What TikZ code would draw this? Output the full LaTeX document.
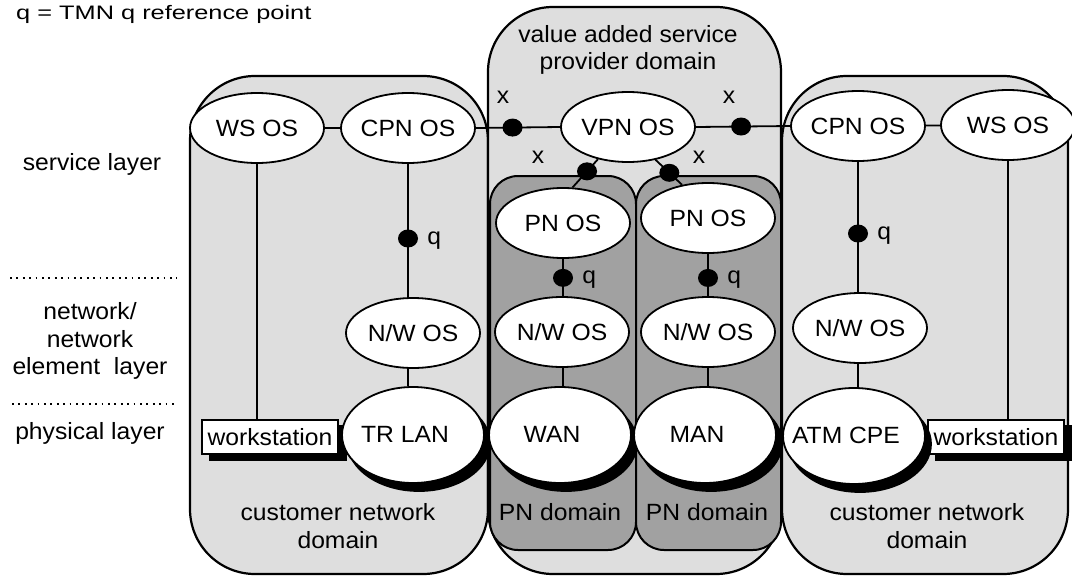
\documentclass[tikz,border=0pt]{standalone}
\usepackage{fontspec}
\setmainfont{Liberation Sans}[FakeStretch=1.05]
\newfontfamily\hdrfont{Liberation Sans}[FakeStretch=1.3]
\usetikzlibrary{shapes.geometric,shadows}
\newcommand\zt[1]{\makebox[0pt]{#1}}
\newcommand\zs[1]{\makebox[0pt]{\raisebox{2pt}{#1}\hspace{16pt}}}
\definecolor{lightdom}{gray}{0.87}
\definecolor{darkdom}{gray}{0.63}
\begin{document}
\begin{tikzpicture}[x=1pt,y=-1pt,
  font=\fontsize{23.5}{27.5}\selectfont,
  dom/.style={draw=black, line width=2.2pt, fill=lightdom, rounded corners=65pt},
  pndom/.style={draw=black, line width=2pt, fill=darkdom, rounded corners=28pt},
  os/.style={ellipse, draw=black, line width=1.8pt, fill=white, minimum width=134pt, minimum height=70pt, inner sep=0pt},
  phys/.style={ellipse, draw=black, line width=1.8pt, fill=white, minimum width=142pt, minimum height=96pt, inner sep=0pt,
    general shadow={fill=black, draw=black, shadow xshift=6pt, shadow yshift=-8pt}},
  wk/.style={rectangle, draw=black, line width=1.5pt, fill=white, minimum width=136pt, minimum height=34pt, inner sep=0pt,
    general shadow={fill=black, draw=black, shadow xshift=8pt, shadow yshift=-6pt}},
  dot/.style={ellipse, fill=black, minimum width=20pt, minimum height=18pt, inner sep=0pt},
  conn/.style={line width=1.8pt},
  lyrline/.style={line width=1.8pt, dash pattern=on 1.8pt off 4.6pt},
  qlab/.style={anchor=west, xshift=5pt, yshift=-2pt},
  plain/.style={inner sep=0pt, align=center}
]
\useasboundingbox (0,0) rectangle (1072,576);

% header
\node[anchor=base west, inner sep=0pt, font=\hdrfont\fontsize{19.5}{22}\selectfont] (hdr) at (16,19) {q = TMN q reference point};

% layer labels
\node[plain] (lsrv) at (92,164) {service layer};
\draw[lyrline] (10,278) -- (177,278);
\node[plain] (lnet) at (90,341) {network/\\network\\element\ \ layer};
\draw[lyrline] (12,404) -- (175,404);
\node[plain] (lphy) at (90,433) {physical layer};

% domains
\draw[dom] (190,76) rectangle (488,574);
\draw[dom] (488,7) rectangle (781,574);
\draw[dom] (782,76) rectangle (1068,574);
\draw[pndom] (490,176) rectangle (636,550);
\draw[pndom] (636,176) rectangle (781,550);

% domain labels
\node[plain] (lvasp) at (628,50) {value added service\\provider domain};
\node[plain] (lcnl) at (338,526) {customer network\\domain};
\node[plain] (lcnr) at (927,526) {customer network\\domain};
\node[plain] (lpn1) at (560,512) {PN domain};
\node[plain] (lpn2) at (707,512) {PN domain};

% service layer OS
\node[os] (wsL) at (257,128) {\zt{WS OS}};
\node[os] (cpnL) at (408,128) {\zt{CPN OS}};
\node[os] (vpn) at (628,127) {\zt{VPN OS}};
\node[os] (cpnR) at (858,126) {\zt{CPN OS}};
\node[os] (wsR) at (1008,125) {\zt{WS OS}};
\node[os] (pn1os) at (563,223) {\zt{PN OS}};
\node[os] (pn2os) at (708,218) {\zt{PN OS}};

% network layer OS
\node[os] (nwL) at (413,333) {\zt{N/W OS}};
\node[os] (nw1) at (562,332) {\zt{N/W OS}};
\node[os] (nw2) at (708,332) {\zt{N/W OS}};
\node[os] (nwR) at (860,328) {\zt{N/W OS}};

% physical
\node[wk] (wkL) at (270,437) {\zt{workstation}};
\node[wk] (wkR) at (996,437) {\zt{workstation}};
\node[phys] (trlan) at (413,435) {\zs{TR LAN}};
\node[phys] (wan) at (560,435) {\zs{WAN}};
\node[phys] (man) at (705,435) {\zs{MAN}};
\node[phys] (atm) at (854,436) {\zs{ATM CPE}};

% connectors
\draw[conn] (wsL) -- (cpnL);
\draw[conn] (cpnR) -- (wsR);
\draw[conn] (cpnL.east) -- (vpn.west) node[dot, pos=0.435] (xL) {};
\draw[conn] (vpn.east) -- (cpnR.west) node[dot, pos=0.48] (xR) {};
\draw[conn] (vpn.227) -- (pn1os.75) node[dot, pos=0.43] (xa) {};
\draw[conn] (vpn.310) -- (pn2os.128) node[dot, pos=0.52] (xb) {};

\draw[conn] (wsL.south) -- (wsL.south |- wkL.north);
\draw[conn] (wsR.south) -- (wsR.south |- wkR.north);

\draw[conn] (cpnL.south) -- (cpnL.south |- nwL.north) node[dot, pos=0.56] (qL) {};
\draw[conn] (nwL.south -| cpnL.south) -- (cpnL.south |- trlan.north);
\draw[conn] (pn1os.south) -- (pn1os.south |- nw1.north) node[dot, pos=0.51] (q1) {};
\draw[conn] (nw1.south -| pn1os.south) -- (pn1os.south |- wan.north);
\draw[conn] (pn2os.south) -- (pn2os.south |- nw2.north) node[dot, pos=0.57] (q2) {};
\draw[conn] (nw2.south -| pn2os.south) -- (pn2os.south |- man.north);
\draw[conn] (cpnR.south) -- (cpnR.south |- nwR.north) node[dot, pos=0.55] (qR) {};
\draw[conn] (nwR.south -| cpnR.south) -- (cpnR.south |- atm.north);

% reference point labels
\node[qlab] (lqL) at (qL.east) {q};
\node[qlab] (lq1) at (q1.east) {q};
\node[qlab] (lq2) at (q2.east) {q};
\node[qlab] (lqR) at (qR.east) {q};
\node[plain] (lx1) at (503,97) {x};
\node[plain] (lx2) at (729,97) {x};
\node[plain] (lx3) at (538,157) {x};
\node[plain] (lx4) at (699,157) {x};
\end{tikzpicture}
\end{document}
